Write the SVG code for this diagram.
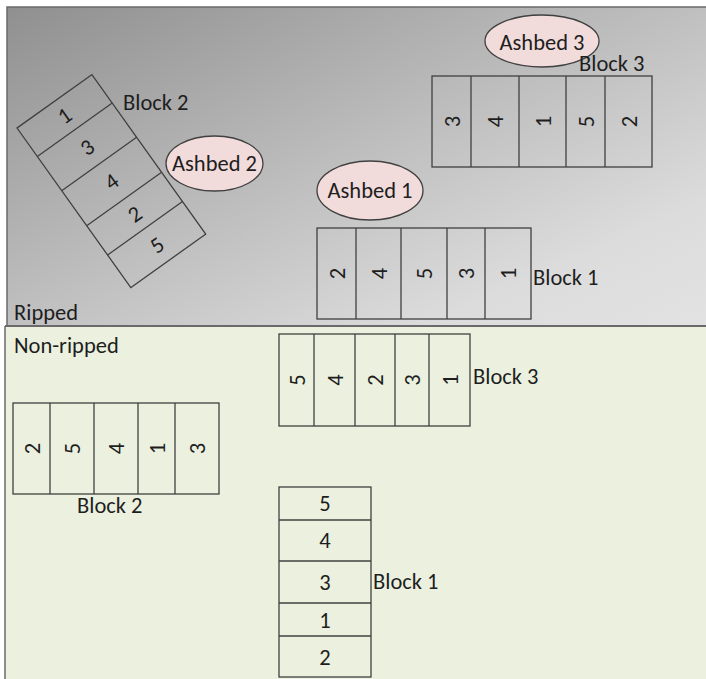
<svg xmlns="http://www.w3.org/2000/svg" width="706" height="679" viewBox="0 0 706 679">
  <defs>
    <linearGradient id="rippedFill" gradientUnits="userSpaceOnUse" x1="0" y1="0" x2="238" y2="533">
      <stop offset="0" stop-color="#8e8e8e"/>
      <stop offset="0.49" stop-color="#bebebe"/>
      <stop offset="0.81" stop-color="#dcdcdc"/>
      <stop offset="1" stop-color="#e2e2e2"/>
    </linearGradient>
  </defs>
  <style>
    .cell { fill: none; stroke: #404040; stroke-width: 1.3; }
    .ash { fill: #f2dcdb; stroke: #404040; stroke-width: 1.3; }
    .edge { stroke: #6a6a6a; stroke-width: 1.5; fill: none; }
    text { font-family: Carlito, Lato, "Liberation Sans", sans-serif; font-size: 22.5px; fill: #1e1e1e; }
    .num { text-anchor: middle; }
    .mid { text-anchor: middle; }
  </style>

  <!-- field areas -->
  <g id="ripped-area">
    <rect x="7" y="7" width="699" height="319" fill="url(#rippedFill)"/>
    <polyline class="edge" points="7,326 7,7 706,7"/>
    <text x="14" y="320">Ripped</text>
  </g>
  <g id="nonripped-area">
    <rect x="5" y="326" width="701" height="353" fill="#ebf1de"/>
    <line class="edge" x1="5" y1="326" x2="5" y2="679"/>
    <line x1="5" y1="326" x2="706" y2="326" stroke="#6a6a6a" stroke-width="2"/>
    <text x="14" y="353">Non-ripped</text>
  </g>

  <!-- ripped: block 2 (tilted) -->
  <g id="ripped-block2">
    <g transform="translate(17 128) rotate(-35.5)">
      <rect class="cell" x="0" y="0" width="92" height="196"/>
      <line class="cell" x1="0" y1="35" x2="92" y2="35"/>
      <line class="cell" x1="0" y1="77" x2="92" y2="77"/>
      <line class="cell" x1="0" y1="120" x2="92" y2="120"/>
      <line class="cell" x1="0" y1="156" x2="92" y2="156"/>
      <text class="num" x="46" y="25">1</text>
      <text class="num" x="46" y="64">3</text>
      <text class="num" x="46" y="106">4</text>
      <text class="num" x="46" y="146">2</text>
      <text class="num" x="46" y="184">5</text>
    </g>
    <text x="123" y="110">Block 2</text>
  </g>
  <g id="ashbed2">
    <ellipse class="ash" cx="214.5" cy="163.5" rx="48.5" ry="27.5"/>
    <text class="mid" x="214.5" y="171">Ashbed 2</text>
  </g>

  <!-- ripped: block 3 -->
  <g id="ashbed3">
    <ellipse class="ash" cx="542" cy="41" rx="57" ry="26"/>
    <text class="mid" x="542" y="50">Ashbed 3</text>
  </g>
  <g id="ripped-block3">
    <rect class="cell" x="432" y="76" width="220" height="91"/>
    <line class="cell" x1="471" y1="76" x2="471" y2="167"/>
    <line class="cell" x1="519" y1="76" x2="519" y2="167"/>
    <line class="cell" x1="566" y1="76" x2="566" y2="167"/>
    <line class="cell" x1="605" y1="76" x2="605" y2="167"/>
    <text class="num" transform="translate(451.5 121.5) rotate(-90)" y="8">3</text>
    <text class="num" transform="translate(495 121.5) rotate(-90)" y="8">4</text>
    <text class="num" transform="translate(542.5 121.5) rotate(-90)" y="8">1</text>
    <text class="num" transform="translate(585.5 121.5) rotate(-90)" y="8">5</text>
    <text class="num" transform="translate(628.5 121.5) rotate(-90)" y="8">2</text>
    <text x="579" y="71">Block 3</text>
  </g>

  <!-- ripped: block 1 -->
  <g id="ashbed1">
    <ellipse class="ash" cx="370" cy="190.5" rx="53" ry="29.5"/>
    <text class="mid" x="370" y="198">Ashbed 1</text>
  </g>
  <g id="ripped-block1">
    <rect class="cell" x="317" y="228" width="214" height="91"/>
    <line class="cell" x1="356" y1="228" x2="356" y2="319"/>
    <line class="cell" x1="401" y1="228" x2="401" y2="319"/>
    <line class="cell" x1="447" y1="228" x2="447" y2="319"/>
    <line class="cell" x1="485" y1="228" x2="485" y2="319"/>
    <text class="num" transform="translate(336.5 273.5) rotate(-90)" y="8">2</text>
    <text class="num" transform="translate(378.5 273.5) rotate(-90)" y="8">4</text>
    <text class="num" transform="translate(424 273.5) rotate(-90)" y="8">5</text>
    <text class="num" transform="translate(466 273.5) rotate(-90)" y="8">3</text>
    <text class="num" transform="translate(508 273.5) rotate(-90)" y="8">1</text>
    <text x="533" y="285">Block 1</text>
  </g>

  <!-- non-ripped: block 3 -->
  <g id="nonripped-block3">
    <rect class="cell" x="279" y="334" width="191" height="92"/>
    <line class="cell" x1="314" y1="334" x2="314" y2="426"/>
    <line class="cell" x1="355" y1="334" x2="355" y2="426"/>
    <line class="cell" x1="395" y1="334" x2="395" y2="426"/>
    <line class="cell" x1="429" y1="334" x2="429" y2="426"/>
    <text class="num" transform="translate(296.5 380) rotate(-90)" y="8">5</text>
    <text class="num" transform="translate(334.5 380) rotate(-90)" y="8">4</text>
    <text class="num" transform="translate(375 380) rotate(-90)" y="8">2</text>
    <text class="num" transform="translate(412 380) rotate(-90)" y="8">3</text>
    <text class="num" transform="translate(449.5 380) rotate(-90)" y="8">1</text>
    <text x="473" y="384">Block 3</text>
  </g>

  <!-- non-ripped: block 2 -->
  <g id="nonripped-block2">
    <rect class="cell" x="13" y="403" width="206" height="91"/>
    <line class="cell" x1="50" y1="403" x2="50" y2="494"/>
    <line class="cell" x1="94" y1="403" x2="94" y2="494"/>
    <line class="cell" x1="138" y1="403" x2="138" y2="494"/>
    <line class="cell" x1="175" y1="403" x2="175" y2="494"/>
    <text class="num" transform="translate(31.5 448.5) rotate(-90)" y="8">2</text>
    <text class="num" transform="translate(72 448.5) rotate(-90)" y="8">5</text>
    <text class="num" transform="translate(116 448.5) rotate(-90)" y="8">4</text>
    <text class="num" transform="translate(156.5 448.5) rotate(-90)" y="8">1</text>
    <text class="num" transform="translate(197 448.5) rotate(-90)" y="8">3</text>
    <text x="77" y="513">Block 2</text>
  </g>

  <!-- non-ripped: block 1 -->
  <g id="nonripped-block1">
    <rect class="cell" x="279" y="487" width="92" height="190"/>
    <line class="cell" x1="279" y1="520" x2="371" y2="520"/>
    <line class="cell" x1="279" y1="561" x2="371" y2="561"/>
    <line class="cell" x1="279" y1="603" x2="371" y2="603"/>
    <line class="cell" x1="279" y1="636" x2="371" y2="636"/>
    <text class="num" x="325" y="511">5</text>
    <text class="num" x="325" y="548">4</text>
    <text class="num" x="325" y="590">3</text>
    <text class="num" x="325" y="628">1</text>
    <text class="num" x="325" y="665">2</text>
    <text x="373" y="589">Block 1</text>
  </g>
</svg>
